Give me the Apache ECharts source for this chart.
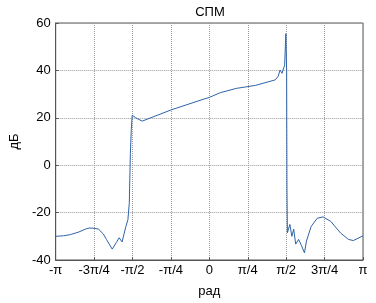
<!DOCTYPE html>
<html>
<head>
	<meta charset="UTF-8" />
	<title>СПМ</title>
	<script src="https://cdn.jsdelivr.net/npm/echarts@6/dist/echarts.min.js"></script>
	<style type="text/css">
		html, body {
			margin: 0;
			padding: 0;
			background-color: #ffffff;
		}

		#chart {
			width: 376px;
			height: 303px;
		}
	</style>
</head>
<body>
	<div id="chart"></div>

	<script>
		// частота в долях π (от -1 до 1)
		const freq = [-1.0, -0.95, -0.905, -0.85, -0.8, -0.778, -0.75, -0.721, -0.69, -0.67, -0.632, -0.606,
			-0.587, -0.568, -0.562, -0.543, -0.53, -0.521, -0.514, -0.508, -0.502, -0.479, -0.437,
			-0.246, -0.035, 0, 0.071, 0.175, 0.302, 0.429, 0.448, 0.46, 0.473, 0.49, 0.498, 0.503,
			0.505, 0.508, 0.511, 0.524, 0.537, 0.549, 0.562, 0.581, 0.6, 0.619, 0.632, 0.663, 0.702,
			0.74, 0.79, 0.854, 0.905, 0.937, 1.0];

		// СПМ, дБ
		const psd = [-30, -29.8, -29.3, -28.2, -26.8, -26.5, -26.6, -27, -29, -31.3, -35.4, -32.7,
			-30.6, -32.4, -31.8, -25.8, -23, -16, 5, 15, 21.1, 20, 18.6,
			23.4, 27.9, 28.6, 30.6, 32.4, 33.7, 36, 37.5, 40.1, 38.8, 42.2, 55.5, 40,
			-10, -28.5, -29, -25, -30, -27, -33.3, -31.3, -34, -37, -32, -25.8, -22.4,
			-21.8, -23.7, -28.6, -31.3, -31.8, -29.8];

		const xTickLabels = ['-π', '-3π/4', '-π/2', '-π/4', '0', 'π/4', 'π/2', '3π/4', 'π'];

		const chart = echarts.init(document.getElementById('chart'));

		const font = 'Liberation Sans, Arial, sans-serif';

		chart.setOption({
			animation: false,
			backgroundColor: '#ffffff',
			title: {
				text: 'СПМ',
				left: 205,
				textAlign: 'center',
				top: 1,
				textStyle: { fontFamily: font, fontSize: 13, fontWeight: 'normal', color: '#000' }
			},
			grid: {
				left: 48,
				right: 13,
				top: 23,
				bottom: 35,
				show: true,
				borderColor: '#555',
				borderWidth: 1
			},
			xAxis: {
				type: 'value',
				min: -1,
				max: 1,
				interval: 0.25,
				name: 'рад',
				nameLocation: 'middle',
				nameGap: 25,
				nameTextStyle: { fontFamily: font, fontSize: 13, color: '#000' },
				axisLine: { show: true, onZero: false, lineStyle: { color: '#555' } },
				axisTick: { show: true, inside: true, length: 3, lineStyle: { color: '#555' } },
				axisLabel: {
					fontFamily: font, fontSize: 13, color: '#000', margin: 4,
					formatter: (v) => xTickLabels[Math.round((v + 1) / 0.25)]
				},
				splitLine: { show: true, lineStyle: { type: 'dotted', color: '#9a9a9a' } }
			},
			yAxis: {
				type: 'value',
				min: -40,
				max: 60,
				interval: 20,
				name: 'дБ',
				nameLocation: 'middle',
				nameGap: 33,
				nameTextStyle: { fontFamily: font, fontSize: 13, color: '#000' },
				axisLine: { show: true, onZero: false, lineStyle: { color: '#555' } },
				axisTick: { show: true, inside: true, length: 3, lineStyle: { color: '#555' } },
				axisLabel: { fontFamily: font, fontSize: 13, color: '#000', margin: 5 },
				splitLine: { show: true, lineStyle: { type: 'dotted', color: '#9a9a9a' } }
			},
			series: [{
				type: 'line',
				data: freq.map((f, i) => [f, psd[i]]),
				showSymbol: false,
				lineStyle: { color: '#2f63a8', width: 1 }
			}]
		});
	</script>
</body>
</html>
